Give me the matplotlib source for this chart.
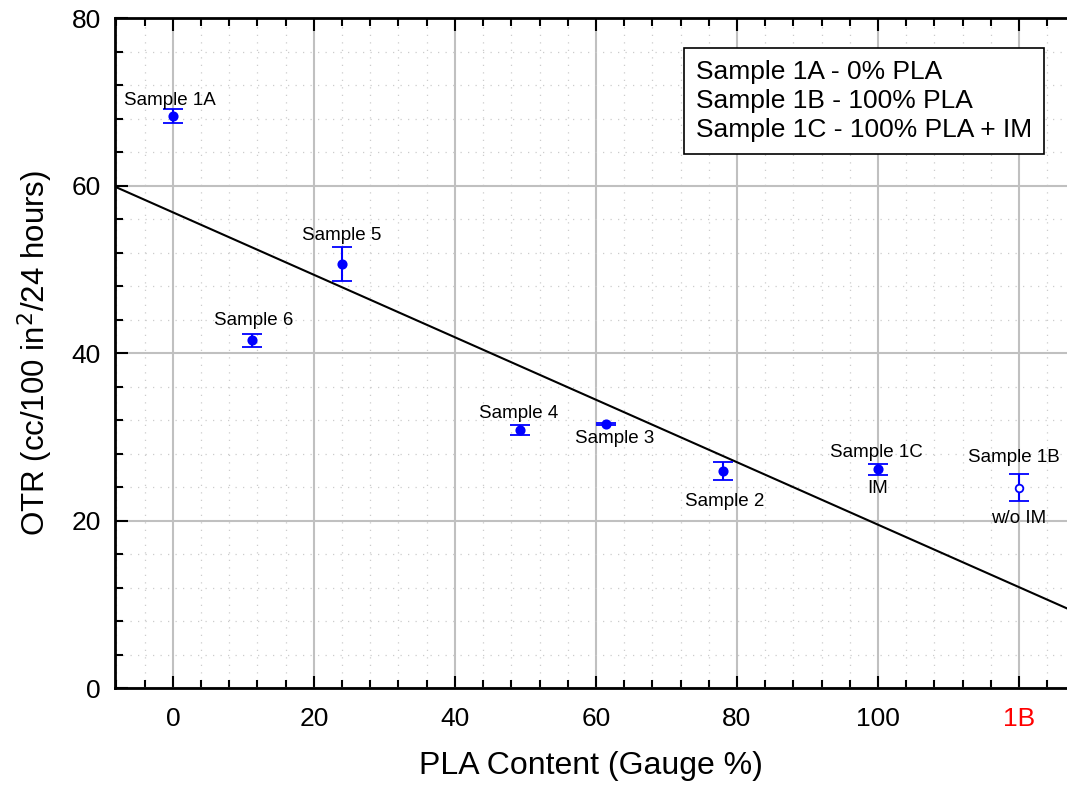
import matplotlib
matplotlib.use("Agg")
import matplotlib.pyplot as plt
from matplotlib.ticker import MultipleLocator
import numpy as np

plt.rcParams['font.family'] = ['Liberation Sans', 'DejaVu Sans']

samples = ['Sample 1A', 'Sample 6', 'Sample 5', 'Sample 4', 'Sample 3', 'Sample 2', 'Sample 1C', 'Sample 1B']
pla = [0, 11.2, 24.0, 49.3, 61.4, 78.0, 100, 120]
otr = [68.3, 41.5, 50.6, 30.8, 31.5, 25.9, 26.1, 23.9]
err = [0.8, 0.8, 2.0, 0.6, 0.1, 1.1, 0.7, 1.6]
sub_labels = ['', '', '', '', '', '', 'IM', 'w/o IM']

fit_intercept = 56.8
fit_slope = -0.373

xticks = [0, 20, 40, 60, 80, 100, 120]
xticklabels = ['0', '20', '40', '60', '80', '100', '1B']
yticks = [0, 20, 40, 60, 80]
legend_lines = ['Sample 1A - 0% PLA', 'Sample 1B - 100% PLA', 'Sample 1C - 100% PLA + IM']

fig = plt.figure(figsize=(10.67, 7.93), dpi=100)
ax = fig.add_axes([115/1067, 105/793, 1 - 115/1067, 670/793])

xlim = (-8.2, 126.8)
ax.set_xlim(*xlim)
ax.set_ylim(0, 80)

# grid
ax.xaxis.set_major_locator(MultipleLocator(20))
ax.xaxis.set_minor_locator(MultipleLocator(4))
ax.yaxis.set_major_locator(MultipleLocator(20))
ax.yaxis.set_minor_locator(MultipleLocator(4))
ax.grid(which='major', color='#c0c0c0', lw=1.5, ls='-', zorder=0)
ax.grid(which='minor', color='#cccccc', lw=0.9, ls=(0, (1, 5)), zorder=0)
ax.set_axisbelow(True)

# fit line
xs = np.array(xlim)
ax.plot(xs, fit_intercept + fit_slope * xs, color='black', lw=1.5, zorder=2)

# points
for i, (x, y, e) in enumerate(zip(pla, otr, err)):
    open_m = samples[i] == 'Sample 1B'
    ax.errorbar(x, y, yerr=e, fmt='o', color='blue', ms=6 if not open_m else 5.5,
                mfc='white' if open_m else 'blue', mec='blue', mew=1.3,
                elinewidth=1.5, capsize=7, capthick=1.5, zorder=3)

offsets = {
    'Sample 1A': (-2, 11),
    'Sample 6': (1, 14),
    'Sample 5': (0, 21),
    'Sample 4': (-1, 12),
    'Sample 3': (6, -10),
    'Sample 2': (1, -22),
    'Sample 1C': (-1, 12),
    'Sample 1B': (-3.6, 22),
}
sub_offsets = {'Sample 1C': (0, -14), 'Sample 1B': (0, -22)}
for name, x, y, sl in zip(samples, pla, otr, sub_labels):
    ax.annotate(name, (x, y), xytext=offsets[name], textcoords='offset points',
                ha='center', va='center', fontsize=13.5, zorder=4)
    if sl:
        ax.annotate(sl, (x, y), xytext=sub_offsets[name], textcoords='offset points',
                    ha='center', va='center', fontsize=13.5, zorder=4)

ax.set_xticks(xticks)
ax.set_xticklabels(xticklabels)
ax.set_yticks(yticks)
for lbl in ax.get_xticklabels():
    if lbl.get_text() == '1B':
        lbl.set_color('red')

ax.tick_params(which='major', direction='in', length=9, width=1.5, top=True,
               labelsize=19, color='black')
ax.tick_params(which='minor', direction='in', length=6, width=1.5, top=True, color='black')
ax.tick_params(axis='x', which='major', pad=14)
ax.tick_params(axis='y', which='major', pad=10)

for s in ['left', 'bottom', 'top']:
    ax.spines[s].set_linewidth(2)
    ax.spines[s].set_color('black')
ax.spines['right'].set_visible(False)

ax.set_xlabel('PLA Content (Gauge %)', fontsize=23, labelpad=14)
ax.set_ylabel('OTR (cc/100 in$^2$/24 hours)', fontsize=22.5, labelpad=12)

ax.text((696 - 115) / 952, (688 - 60) / 670, '\n'.join(legend_lines), transform=ax.transAxes,
        ha='left', va='top', fontsize=19, linespacing=1.27, zorder=5,
        bbox=dict(boxstyle='square,pad=0.45', fc='white', ec='black', lw=1.2))

fig.savefig('out.png', dpi=100)
